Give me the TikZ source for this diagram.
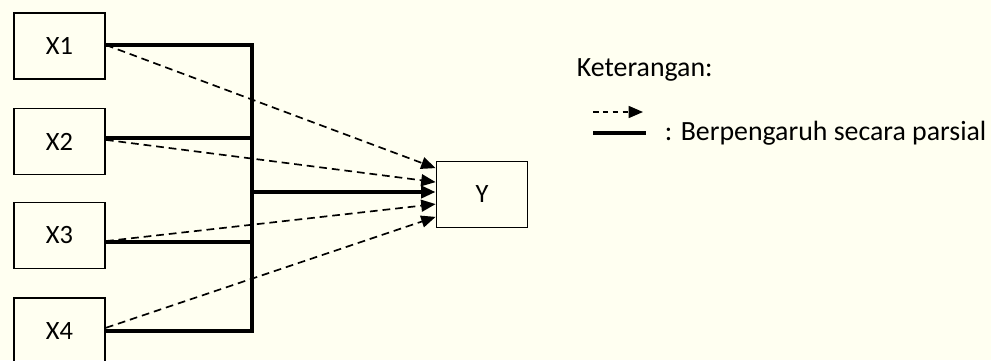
\documentclass[tikz,border=0pt]{standalone}
\usepackage{fontspec}
\setmainfont{Carlito}
\usepackage{tikz}
\usepackage{xcolor}
\usetikzlibrary{arrows.meta, positioning, calc}

\definecolor{paper}{RGB}{255,255,241}

\begin{document}
\begin{tikzpicture}[
    every node/.style={align=center, font=\fontsize{19.8}{23}\selectfont},
    var/.style={rectangle, draw, line width=1.3pt, minimum width=2.275cm, minimum height=1.65cm, inner sep=0pt, font=\fontsize{18.8}{22}\selectfont},
    bus/.style={line width=2.6pt},
    busarrow/.style={line width=2.6pt, -{Triangle[length=0.36cm, width=0.3cm]}},
    partial/.style={line width=1.2pt, dash pattern=on 5.5pt off 3.5pt, -{Triangle[length=0.36cm, width=0.3cm]}},
    keydash/.style={line width=1.2pt, dash pattern=on 4pt off 3pt, -{Triangle[length=0.36cm, width=0.3cm]}},
    note/.style={anchor=west}
]

% latar
\fill[paper] (0,0) rectangle (24.775,9);
\useasboundingbox (0,0) rectangle (24.775,9);

% variabel bebas
\node[var] (x1) at (1.4875, 7.85) {X1};
\node[var] (x2) at (1.4875, 5.4625) {X2};
\node[var] (x3) at (1.4875, 3.1125) {X3};
\node[var] (x4) at (1.4875, 0.725) {X4};

% variabel terikat
\node[var] (y) at (12.05, 4.1375) {Y};

% jalur bersama
\coordinate (b1) at (6.3, 7.875);
\coordinate (b2) at (6.3, 5.55);
\coordinate (b3) at (6.3, 2.95);
\coordinate (b4) at (6.3, 0.725);
\coordinate (bm) at (6.3, 4.2);

\draw[bus] (x1.east |- b1) -- (b1) -- (b4) -- (x4.east |- b4);
\draw[bus] (x2.east |- b2) -- (b2);
\draw[bus] (x3.east |- b3) -- (b3);
\draw[busarrow] (bm) -- (y.west |- bm);

% pengaruh parsial
\draw[partial] (x1.east |- b1) -- ([yshift=0.66cm]y.west);
\draw[partial] ([yshift=0.04cm]x2.east) -- ([yshift=0.31cm]y.west);
\draw[partial] ([yshift=-0.14cm]x3.east) -- ([yshift=-0.24cm]y.west);
\draw[partial] ([yshift=0.08cm]x4.east) -- ([yshift=-0.56cm]y.west);

% keterangan
\node[note] (ket) at (14.3, 7.25) {Keterangan:};
\coordinate (ld1) at (14.825, 6.2);
\coordinate (ld2) at (16.075, 6.2);
\coordinate (ls1) at (14.825, 5.675);
\coordinate (ls2) at (16.15, 5.675);
\draw[keydash] (ld1) -- (ld2);
\draw[bus] (ls1) -- (ls2);
\node[note] (par) at (16.5, 5.68) {: Berpengaruh secara parsial};

\end{tikzpicture}
\end{document}
